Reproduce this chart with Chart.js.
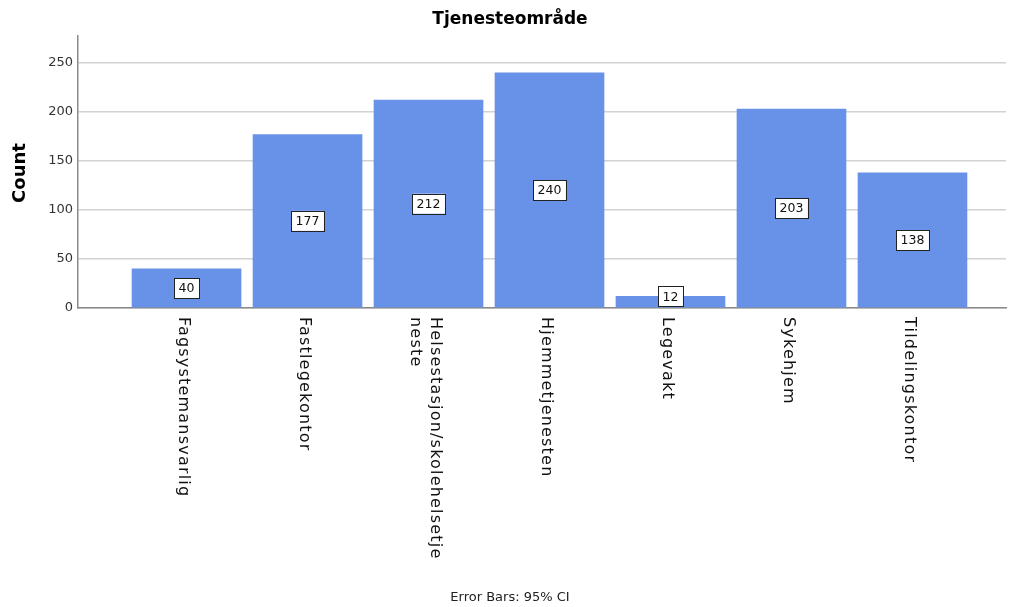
<!DOCTYPE html>
<html>
<head>
<meta charset="utf-8">
<script src="https://cdn.jsdelivr.net/npm/chart.js@4/dist/chart.umd.min.js"></script>
<style>
  html, body { margin: 0; padding: 0; background: #fff; }
  #wrap { width: 1009px; height: 607px; }
</style>
</head>
<body>
<div id="wrap"><canvas id="chart"></canvas></div>
<script>
const categories = [
    'Fagsystemansvarlig',
    'Fastlegekontor',
    ['Helsestasjon/skolehelsetje', 'neste'],
    'Hjemmetjenesten',
    'Legevakt',
    'Sykehjem',
    'Tildelingskontor'
];
const counts = [40, 177, 212, 240, 12, 203, 138];
const yTicks = [0, 50, 100, 150, 200, 250];

const titleText = 'Tjenesteområde';
const yTitle = 'Count';
const footerText = 'Error Bars: 95% CI';

const font = '"DejaVu Sans", Verdana, sans-serif';
const barColor = '#6891e8';

// titles, rotated category labels and value boxes
const decorations = {
    id: 'decorations',
    afterDraw(chart) {
        const ctx = chart.ctx;
        const x = chart.scales.x;
        const area = chart.chartArea;
        ctx.save();
        ctx.fillStyle = '#000';
        ctx.textAlign = 'center';
        ctx.textBaseline = 'middle';
        ctx.font = 'bold 17px ' + font;
        ctx.fillText(titleText, 510, 20);
        ctx.font = '13px ' + font;
        ctx.fillStyle = '#222';
        ctx.fillText(footerText, 510, 598);

        ctx.save();
        ctx.translate(20, 173);
        ctx.rotate(-Math.PI / 2);
        ctx.font = 'bold 18px ' + font;
        ctx.fillStyle = '#000';
        ctx.fillText(yTitle, 0, 0);
        ctx.restore();

        // category labels, turned clockwise
        ctx.font = '16px ' + font;
        ctx.letterSpacing = '1.2px';
        ctx.fillStyle = '#111';
        categories.forEach((lab, i) => {
            const lines = Array.isArray(lab) ? lab : [lab];
            const px = x.getPixelForValue(i);
            ctx.save();
            ctx.translate(px - 3, area.bottom + 9);
            ctx.rotate(Math.PI / 2);
            ctx.textAlign = 'left';
            lines.forEach((ln, j) => {
                ctx.fillText(ln, 0, (j - (lines.length - 1) / 2) * 20);
            });
            ctx.restore();
        });
        ctx.letterSpacing = '0px';

        // value boxes
        const meta = chart.getDatasetMeta(0);
        ctx.font = '12.5px ' + font;
        meta.data.forEach((bar, i) => {
            const txt = String(counts[i]);
            const w = ctx.measureText(txt).width + 9;
            const h = 20;
            let cy = (bar.y + bar.base) / 2;
            cy = Math.min(cy, bar.base - h / 2 - 1);
            ctx.fillStyle = '#fff';
            ctx.fillRect(bar.x - w / 2, cy - h / 2, w, h);
            ctx.strokeStyle = '#222';
            ctx.lineWidth = 1;
            ctx.strokeRect(Math.round(bar.x - w / 2) + 0.5, Math.round(cy - h / 2) + 0.5, Math.round(w), h);
            ctx.fillStyle = '#111';
            ctx.fillText(txt, bar.x, cy + 1);
        });
        ctx.restore();
    }
};

new Chart(document.getElementById('chart'), {
    type: 'bar',
    data: {
        datasets: [{
            data: counts.map((v, i) => ({ x: i, y: v })),
            backgroundColor: barColor,
            borderWidth: 0,
            barThickness: 109
        }]
    },
    options: {
        responsive: true,
        maintainAspectRatio: false,
        animation: false,
        layout: { padding: { top: 36, right: 3, left: 0, bottom: 0 } },
        plugins: {
            legend: { display: false },
            tooltip: { enabled: false }
        },
        scales: {
            x: {
                type: 'linear',
                offset: false,
                min: -0.897,
                max: 6.773,
                grid: { display: false, drawTicks: false, offset: false },
                border: { color: '#8a8a8a', width: 1.5 },
                ticks: { display: false },
                afterFit: s => { s.height = 299; }
            },
            y: {
                min: 0,
                max: 277.5,
                afterBuildTicks: s => { s.ticks = yTicks.map(v => ({ value: v })); },
                grid: {
                    color: '#d2d2d2',
                    lineWidth: 1.5,
                    drawTicks: false
                },
                border: { color: '#8a8a8a', width: 1.5 },
                ticks: {
                    color: '#333',
                    font: { family: font, size: 13 },
                    padding: 5
                },
                afterFit: s => { s.width = 78; }
            }
        }
    },
    plugins: [decorations]
});
</script>
</body>
</html>
